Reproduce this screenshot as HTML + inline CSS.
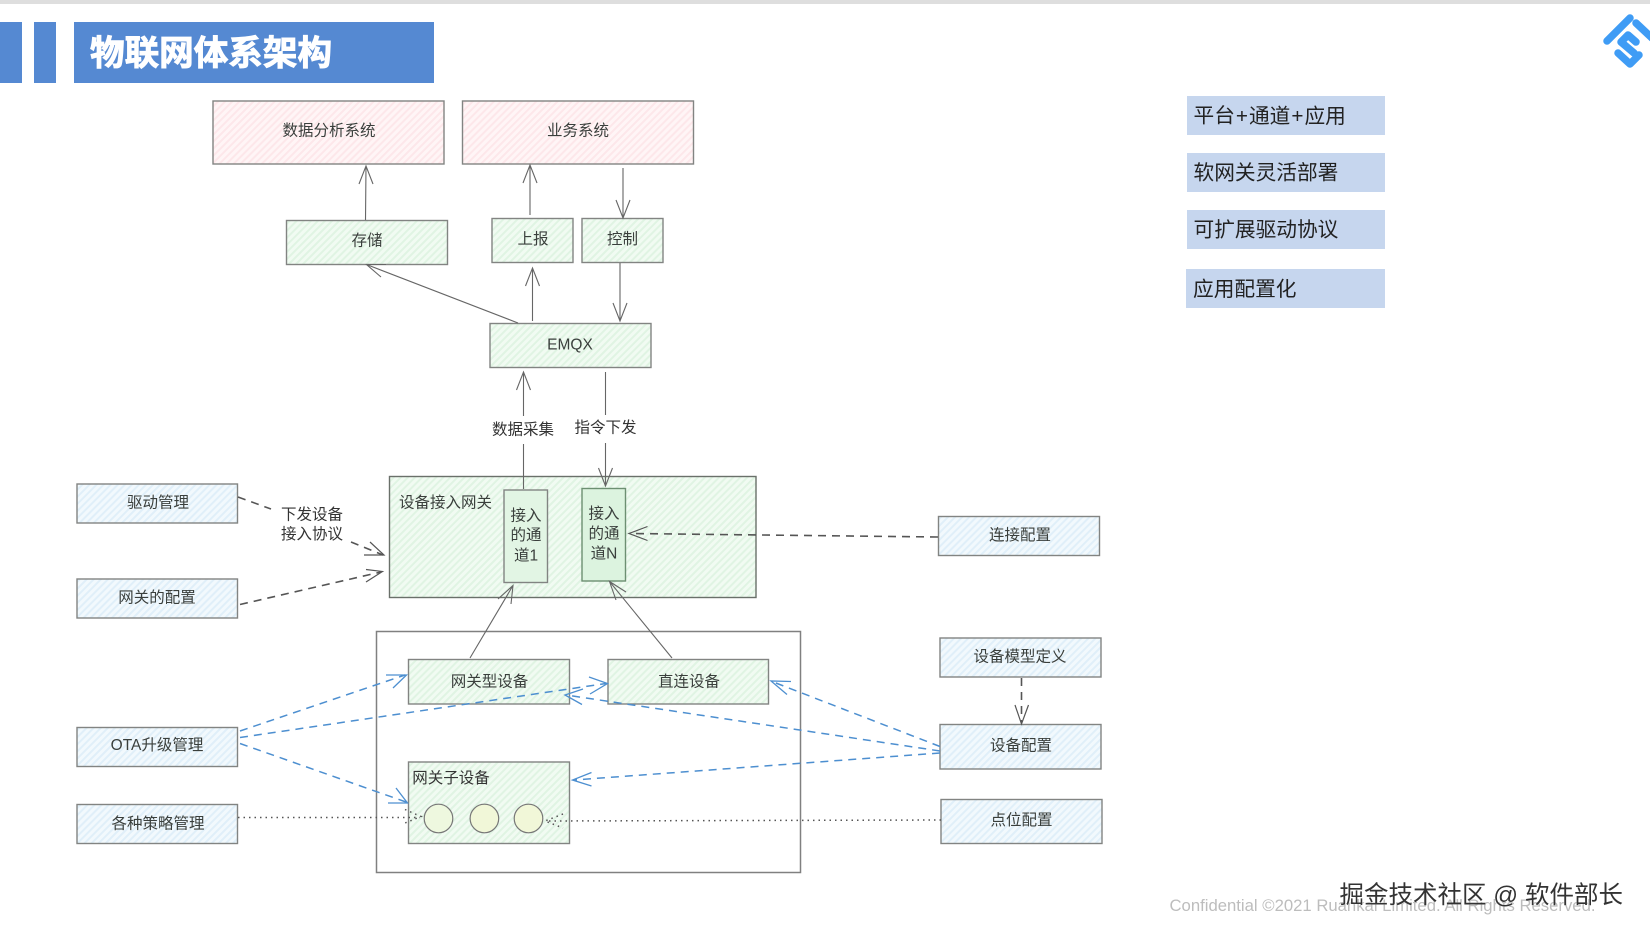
<!DOCTYPE html>
<html lang="zh">
<head>
<meta charset="utf-8">
<title>物联网体系架构</title>
<style>
html,body{margin:0;padding:0;background:#fff}
body{width:1650px;height:934px;overflow:hidden}
svg{display:block}
text{font-family:"Liberation Sans","Noto Sans CJK SC",sans-serif;fill:#3a3f3c}
.b{stroke:#828482;stroke-width:1.4}
.t{font-size:15.5px;text-anchor:middle;dominant-baseline:central;transform:translateY(1px)}
.a{fill:none;stroke:#666;stroke-width:1.1}
.d{fill:none;stroke:#555;stroke-width:1.6;stroke-dasharray:8 6}
.bl{fill:none;stroke:#4d8fd0;stroke-width:1.5;stroke-dasharray:8 6}
.blh{fill:none;stroke:#4d8fd0;stroke-width:1.3}
.dh{fill:none;stroke:#555;stroke-width:1.2}
.o{fill:none;stroke:#555;stroke-width:1.5;stroke-dasharray:1.5 4}
.l{font-size:20.7px;dominant-baseline:central;fill:#222;transform:translateY(1px)}
</style>
</head>
<body>
<svg width="1650" height="934" viewBox="0 0 1650 934" xmlns="http://www.w3.org/2000/svg">
<defs>
<pattern id="pk" width="5" height="5" patternUnits="userSpaceOnUse" patternTransform="rotate(45)"><rect width="5" height="5" fill="#fff5f6"/><rect width="2" height="5" fill="#fde7ea"/></pattern>
<pattern id="gr" width="5" height="5" patternUnits="userSpaceOnUse" patternTransform="rotate(45)"><rect width="5" height="5" fill="#f1fbf2"/><rect width="2" height="5" fill="#e0f4e3"/></pattern>
<pattern id="bu" width="5" height="5" patternUnits="userSpaceOnUse" patternTransform="rotate(45)"><rect width="5" height="5" fill="#f2f9fd"/><rect width="2" height="5" fill="#e0eff9"/></pattern>
</defs>
<rect width="1650" height="934" fill="#fff"/>
<rect width="1650" height="4" fill="#dedede"/>

<!-- header -->
<rect x="0" y="22" width="22" height="61" fill="#5589d2"/>
<rect x="34" y="22" width="22" height="61" fill="#5589d2"/>
<rect x="74" y="22" width="360" height="61" fill="#5589d2"/>
<text x="90" y="54" style="font-size:34.600px;font-weight:700;fill:#fff;stroke:#fff;stroke-width:.9px;dominant-baseline:central">物联网体系架构</text>

<!-- logo -->
<g fill="none" stroke="#3f9cf5" stroke-width="7.500" stroke-linecap="round" stroke-linejoin="round">
<path d="M1630 18L1607 41"/>
<path d="M1636 23L1652 38"/>
<path d="M1636 42L1628 35L1621 42L1634 53"/>
<path d="M1618 53L1630 64L1639 55"/>
</g>

<!-- top boxes -->
<rect class="b" x="213" y="101" width="231" height="63" fill="url(#pk)"/>
<text class="t" x="329" y="130">数据分析系统</text>
<rect class="b" x="462.500" y="101" width="231" height="63" fill="url(#pk)"/>
<text class="t" x="578" y="130">业务系统</text>
<rect class="b" x="286.500" y="220.500" width="161" height="44" fill="url(#gr)"/>
<text class="t" x="367" y="240">存储</text>
<rect class="b" x="492" y="218.500" width="81" height="44" fill="url(#gr)"/>
<text class="t" x="533" y="238.500">上报</text>
<rect class="b" x="582" y="218.500" width="81" height="44" fill="url(#gr)"/>
<text class="t" x="622.500" y="238.500">控制</text>
<rect class="b" x="490" y="323.500" width="161" height="44" fill="url(#gr)"/>
<text class="t" x="570" y="344">EMQX</text>

<!-- top arrows -->
<path class="a" d="M365.500 220L366 166M359 184L366 166L373 184"/>
<path class="a" d="M530 215V165M523 183L530 165L537 183"/>
<path class="a" d="M623 168V218M616 200L623 218L630 200"/>
<path class="a" d="M518 323L366.500 264.500M381 277L366.500 264.500L386 264.500"/>
<path class="a" d="M532.500 321V268M525.500 286L532.500 268L539.500 286"/>
<path class="a" d="M620 263V321M613 303L620 321L627 303"/>
<path class="a" d="M523.500 416V372M516.500 390L523.500 372L530.500 390"/>
<path class="a" d="M605.500 372V415"/>
<text class="t" x="523" y="429" style="fill:#333">数据采集</text>
<text class="t" x="605.500" y="427" style="fill:#333">指令下发</text>

<!-- left boxes -->
<rect class="b" x="77" y="484" width="160.500" height="39" fill="url(#bu)"/>
<text class="t" x="158" y="502">驱动管理</text>
<rect class="b" x="77" y="579" width="160.500" height="39" fill="url(#bu)"/>
<text class="t" x="157" y="597">网关的配置</text>
<rect class="b" x="77" y="727.500" width="160.500" height="39" fill="url(#bu)"/>
<text class="t" x="157" y="744.500">OTA升级管理</text>
<rect class="b" x="77" y="804.500" width="160.500" height="39" fill="url(#bu)"/>
<text class="t" x="158" y="823">各种策略管理</text>

<!-- gateway -->
<rect class="b" x="389.500" y="476.500" width="366.500" height="121" fill="url(#gr)" style="stroke:#6a706a"/>
<text class="t" x="445.500" y="502">设备接入网关</text>
<rect class="b" x="504" y="490" width="43.500" height="92.500" fill="#e2f5e4"/>
<text class="t" x="526" y="515">接入</text>
<text class="t" x="526" y="534.500">的通</text>
<text class="t" x="526" y="555">道1</text>
<rect class="b" x="582" y="488.500" width="43.500" height="92.500" fill="#dcf3df" style="stroke:#6d8f72"/>
<text class="t" x="604" y="513">接入</text>
<text class="t" x="604" y="533">的通</text>
<text class="t" x="604" y="553">道N</text>

<!-- connectors into gateway (drawn above it) -->
<path class="a" d="M523.500 444V489"/>
<path class="a" d="M605.500 443V486M598.500 468L605.500 486L612.500 468"/>

<!-- outer frame -->
<rect x="376.500" y="631.500" width="424" height="241" fill="none" stroke="#808080" stroke-width="1.5"/>
<rect class="b" x="408.500" y="659.500" width="161" height="44.500" fill="url(#gr)"/>
<text class="t" x="489.500" y="681">网关型设备</text>
<rect class="b" x="608" y="659.500" width="160.500" height="44.500" fill="url(#gr)"/>
<text class="t" x="689" y="681">直连设备</text>
<rect class="b" x="408.500" y="762" width="161" height="81.500" fill="url(#gr)"/>
<text class="t" x="451" y="777.500" style="fill:#333">网关子设备</text>
<ellipse cx="438.500" cy="818.500" rx="14.300" ry="14.300" fill="#eef8df" stroke="#777" stroke-width="1.2"/>
<ellipse cx="484.400" cy="818.500" rx="14.300" ry="14.300" fill="#f1f7d8" stroke="#777" stroke-width="1.2"/>
<ellipse cx="528.500" cy="818.500" rx="14.300" ry="14.300" fill="#f1f7d8" stroke="#777" stroke-width="1.2"/>

<!-- right boxes -->
<rect class="b" x="938.500" y="516.500" width="161" height="39" fill="url(#bu)"/>
<text class="t" x="1020" y="534.500">连接配置</text>
<rect class="b" x="940" y="638" width="161" height="39" fill="url(#bu)"/>
<text class="t" x="1020" y="656">设备模型定义</text>
<rect class="b" x="940" y="724.500" width="161" height="44.500" fill="url(#bu)"/>
<text class="t" x="1021" y="745">设备配置</text>
<rect class="b" x="941" y="799.500" width="161" height="44" fill="url(#bu)"/>
<text class="t" x="1021.500" y="819.500">点位配置</text>

<!-- gateway arrows -->
<path class="a" d="M470 658L513 585.500M498 599L513 585.500L511 604"/>
<path class="a" d="M672 658L609.500 581.500M626 592L609.500 581.500L616 600"/>

<!-- dark dashed -->
<path class="d" d="M238 497L271 509"/>
<path class="d" d="M351 542L383 555"/>
<path class="dh" d="M370 542L384 555L364 555"/>
<path class="d" d="M240 604.500L381 572"/>
<path class="dh" d="M366 569.500L382.500 571.500L366 582"/>
<text class="t" x="312" y="514" style="fill:#333">下发设备</text>
<text class="t" x="312" y="533.500" style="fill:#333">接入协议</text>
<path class="d" d="M938 537L630 533.500"/>
<path class="dh" d="M647.500 526.500L629 533.500L647.500 540.500"/>
<path class="d" d="M1021.500 678V722"/>
<path class="dh" d="M1015 705L1021.500 724L1028.500 705"/>

<!-- blue dashed -->
<path class="bl" d="M240 731L405 675"/>
<path class="blh" d="M386 675L406.500 675L393 688"/>
<path class="bl" d="M240 737.500L606 683.500"/>
<path class="blh" d="M589 677L607.500 683.500L590 694"/>
<path class="bl" d="M240 743.500L406 802"/>
<path class="blh" d="M388 803L407.500 803L396 788"/>
<path class="bl" d="M940 746.500L772 681.500"/>
<path class="blh" d="M791 681.500L771 681L787 694.500"/>
<path class="bl" d="M940 751L566 695"/>
<path class="blh" d="M583 689L565 695L582 704.500"/>
<path class="bl" d="M940 753L574 780"/>
<path class="blh" d="M591.500 772.500L572.500 780L591.500 786"/>

<!-- dotted -->
<path class="o" d="M238 817.500H420"/>
<path class="o" d="M405 809.500L421 816.500L405 823"/>
<path class="o" d="M941 820L547 821"/>
<path class="o" d="M563 814L545 821L563 828"/>

<!-- right list -->
<rect x="1187" y="96" width="198" height="39" fill="#c6d6ee"/>
<text class="l" x="1193.500" y="115">平台<tspan dx="1">+</tspan><tspan dx="1">通道</tspan><tspan dx="1">+</tspan><tspan dx="1">应用</tspan></text>
<rect x="1187" y="153" width="198" height="39" fill="#c6d6ee"/>
<text class="l" x="1193.500" y="172">软网关灵活部署</text>
<rect x="1187" y="210" width="198" height="39" fill="#c6d6ee"/>
<text class="l" x="1193.500" y="229">可扩展驱动协议</text>
<rect x="1186" y="269" width="199" height="39" fill="#c6d6ee"/>
<text class="l" x="1193" y="288.500">应用配置化</text>

<!-- footer -->
<text x="1169.500" y="911" style="font-size:16.700px;fill:#bdbdbd">Confidential ©2021 Ruankai Limited. All Rights Reserved.</text>
<text x="1339.500" y="903" style="font-size:24.500px;fill:#333;stroke:#fff;stroke-width:.3px;paint-order:stroke">掘金技术社区 @ 软件部长</text>
</svg>
</body>
</html>
